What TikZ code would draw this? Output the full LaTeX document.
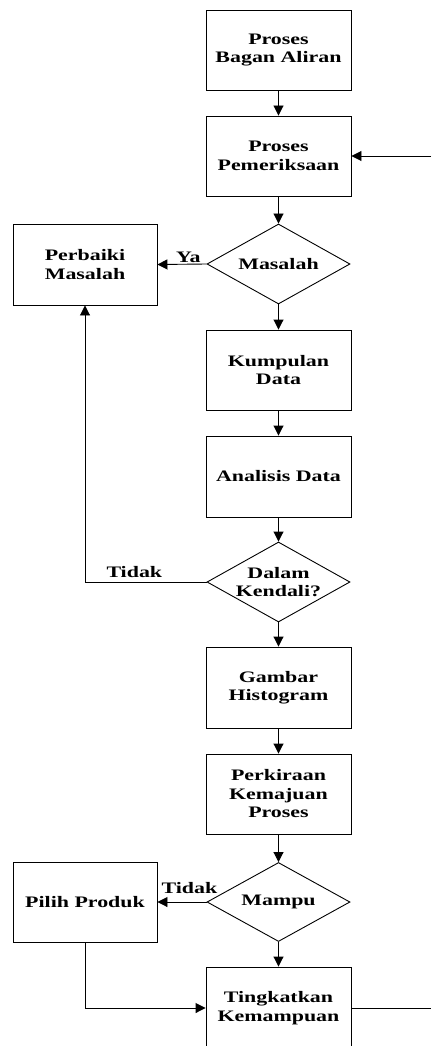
\documentclass[tikz,border=0pt]{standalone}
\usepackage{fontspec}
\setmainfont{Liberation Serif}[FakeStretch=1.37]
\usetikzlibrary{shapes.geometric,arrows.meta}

\begin{document}
\begin{tikzpicture}[x=1pt,y=-1pt,
  font=\fontsize{16}{18.5}\selectfont\bfseries,
  line width=0.9pt,
  box/.style={draw, rectangle, minimum width=145pt, minimum height=80pt, align=center, inner sep=0pt},
  sidebox/.style={box, minimum width=144pt},
  decision/.style={draw, diamond, aspect=1.8, minimum width=143pt, minimum height=80pt, inner sep=0pt, align=center},
  flow/.style={-{Triangle[length=10pt,width=10pt]}},
  lbl/.style={inner sep=0pt, font=\fontsize{16}{18.5}\selectfont\bfseries}
]
\useasboundingbox (0,0) rectangle (431,1046);

% main column
\node[box] (b1) at (278.5,50) {Proses\\Bagan Aliran};
\node[box] (b2) at (278.5,156) {Proses\\Pemeriksaan};
\node[decision] (d1) at (278.5,264) {Masalah};
\node[box] (b3) at (278.5,370) {Kumpulan\\Data};
\node[box, minimum height=81pt] (b4) at (278.5,476.5) {Analisis Data};
\node[decision] (d2) at (278.5,582) {Dalam\\Kendali?};
\node[box, minimum height=81pt] (b5) at (278.5,687.5) {Gambar\\Histogram};
\node[box] (b6) at (278.5,794) {Perkiraan\\Kemajuan\\Proses};
\node[decision, minimum height=79pt] (d3) at (278.5,902) {Mampu};
\node[box, minimum height=82pt] (b7) at (278.5,1008) {Tingkatkan\\Kemampuan};

% side column
\node[sidebox, minimum height=81pt] (perb) at (85,264.5) {Perbaiki\\Masalah};
\node[sidebox] (pilih) at (85,902) {Pilih Produk};

% loose ends at the right edge
\coordinate (inR) at (431,156);
\coordinate (outR) at (431,1008);

% connectors
\draw[flow] (b1) -- (b2);
\draw[flow] (inR) -- (b2.east);
\draw[flow] (b2) -- (d1);
\draw[flow] (d1.west) -- node[lbl, pos=0.37, above=1pt] {Ya} (perb.east);
\draw[flow] (d1) -- (b3);
\draw[flow] (b3) -- (b4);
\draw[flow] (b4) -- (d2);
\draw[flow] (d2.west) -- node[lbl, pos=0.594, above=4pt] {Tidak} (perb.south |- d2.west) -- (perb.south);
\draw[flow] (d2) -- (b5);
\draw[flow] (b5) -- (b6);
\draw[flow] (b6) -- (d3);
\draw[flow] (d3.west) -- node[lbl, pos=0.35, above=8pt] {Tidak} (pilih.east);
\draw[flow] (d3) -- (b7);
\draw[flow] (pilih.south) |- (b7.west);
\draw (b7.east) -- (outR);
\end{tikzpicture}
\end{document}
